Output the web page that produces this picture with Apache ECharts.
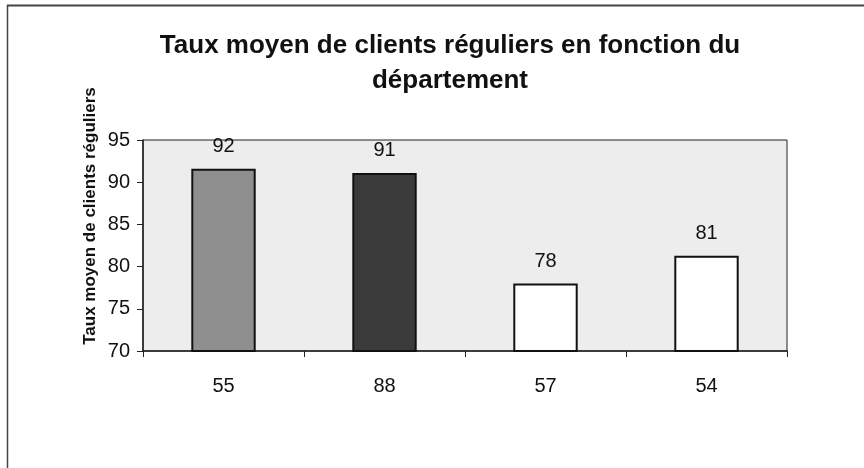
<!DOCTYPE html>
<html>
<head>
<meta charset="utf-8">
<script src="https://cdn.jsdelivr.net/npm/echarts@6/dist/echarts.min.js"></script>
<style>
  html, body { margin: 0; padding: 0; background: #fff; }
  #chart { width: 864px; height: 468px; }
</style>
</head>
<body>
<div id="chart"></div>
<script>
// departements et taux moyens
var departements = ['55', '88', '57', '54'];
var tauxMoyens = [91.6, 91.1, 78.0, 81.3];
var couleursBarres = ['#8f8f8f', '#3b3b3b', '#ffffff', '#ffffff'];
var yTicks = { min: 70, max: 95, step: 5 };

var police = 'Liberation Sans';

var chart = echarts.init(document.getElementById('chart'));
var option = {
    backgroundColor: '#fff',
    animation: false,
    title: {
        text: 'Taux moyen de clients réguliers en fonction du\ndépartement',
        left: 445,
        top: 23,
        textAlign: 'center',
        textStyle: {
            fontFamily: police,
            fontSize: 26,
            fontWeight: 'bold',
            color: '#111',
            lineHeight: 35
        }
    },
    grid: {
        left: 143,
        right: 77,
        top: 140,
        bottom: 117,
        show: true,
        backgroundColor: '#ededed',
        borderColor: '#222',
        borderWidth: 1
    },
    xAxis: {
        type: 'category',
        data: departements,
        axisLine: { lineStyle: { color: '#222', width: 1.5 } },
        axisTick: { show: true, length: 6, inside: false, lineStyle: { color: '#222' } },
        axisLabel: {
            fontFamily: police,
            fontSize: 20,
            color: '#111',
            margin: 25
        }
    },
    yAxis: {
        type: 'value',
        min: yTicks.min,
        max: yTicks.max,
        interval: yTicks.step,
        axisLine: { show: true, lineStyle: { color: '#222', width: 1.5 } },
        axisTick: { show: true, length: 6, lineStyle: { color: '#222' } },
        splitLine: { show: false },
        axisLabel: {
            fontFamily: police,
            fontSize: 20,
            color: '#111',
            margin: 13
        }
    },
    graphic: [
        {
            type: 'text',
            x: 90,
            y: 216,
            rotation: Math.PI / 2,
            style: {
                text: 'Taux moyen de clients réguliers',
                font: 'bold 17px ' + police,
                fill: '#111',
                align: 'center',
                verticalAlign: 'middle'
            }
        },
        {
            type: 'line',
            shape: { x1: 7, y1: 5.5, x2: 864, y2: 5.5 },
            style: { stroke: '#444', lineWidth: 2 },
            silent: true
        },
        {
            type: 'line',
            shape: { x1: 7.5, y1: 5, x2: 7.5, y2: 468 },
            style: { stroke: '#444', lineWidth: 1.5 },
            silent: true
        }
    ],
    series: [
        {
            type: 'bar',
            barWidth: '40%',
            data: tauxMoyens.map(function (v, i) {
                return {
                    value: v,
                    itemStyle: { color: couleursBarres[i] }
                };
            }),
            itemStyle: {
                borderColor: '#111',
                borderWidth: 2
            },
            label: {
                show: true,
                position: 'top',
                distance: 12,
                fontFamily: police,
                fontSize: 20,
                color: '#111',
                formatter: function (p) {
                    return Math.round(p.value);
                }
            }
        }
    ]
};
chart.setOption(option);
</script>
</body>
</html>
